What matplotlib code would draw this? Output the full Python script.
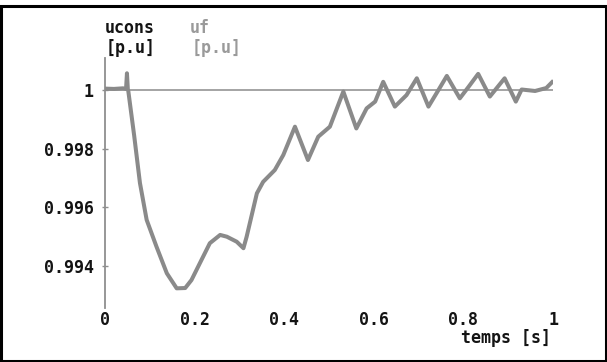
import numpy as np
import matplotlib
matplotlib.use("Agg")
import matplotlib.pyplot as plt
from matplotlib.patches import Rectangle

W, H = 607, 362

# uf response (p.u.) against time (s)
temps = [0.000, 0.020, 0.040, 0.047, 0.049, 0.051, 0.052, 0.065, 0.078, 0.093,
         0.115, 0.138, 0.160, 0.179, 0.193, 0.212, 0.234, 0.257, 0.272, 0.294,
         0.309, 0.316, 0.339, 0.353, 0.379, 0.398, 0.424, 0.453, 0.476, 0.502,
         0.532, 0.561, 0.584, 0.603, 0.621, 0.647, 0.673, 0.696, 0.722, 0.745,
         0.763, 0.792, 0.812, 0.833, 0.859, 0.892, 0.917, 0.930, 0.960, 0.985,
         0.998]
uf = [1.00003, 1.00002, 1.00004, 1.00002, 1.00055, 1.00000, 0.99995, 0.99845,
      0.99683, 0.99558, 0.99467, 0.99377, 0.99326, 0.99327, 0.99354, 0.99412,
      0.99479, 0.99507, 0.99501, 0.99484, 0.99462, 0.99500, 0.99648, 0.99687,
      0.99727, 0.99778, 0.99874, 0.99761, 0.99840, 0.99874, 0.99993, 0.99868,
      0.99936, 0.99959, 1.00026, 0.99942, 0.99981, 1.00038, 0.99942, 1.00000,
      1.00046, 0.99970, 1.00010, 1.00053, 0.99976, 1.00038, 0.99959, 1.00000,
      0.99995, 1.00005, 1.00025]

# setpoint
ucons_t = [0.0, 1.0]
ucons = [1.0, 1.0]

xticks = [0, 0.2, 0.4, 0.6, 0.8, 1]
xtick_labels = ["0", "0.2", "0.4", "0.6", "0.8", "1"]
yticks = [0.994, 0.996, 0.998, 1.0]
ytick_labels = ["0.994", "0.996", "0.998", "1"]

FONT = "DejaVu Sans Mono"
FS = 12
DARK = "#141414"
GREY = "#9a9a9a"

fig = plt.figure(figsize=(W / 100, H / 100), dpi=100)
ax = fig.add_axes([105 / W, 1 - 308 / H, 448 / W, 250 / H])

ax.plot(ucons_t, ucons, color="#8c8c8c", lw=1.1, zorder=2)
ax.plot(temps, uf, color="#8a8a8a", lw=2.9, solid_joinstyle="round", zorder=3)

ax.set_xlim(0, 1)
ax.set_ylim(0.992593, 1.001068)

for side in ("top", "right", "bottom"):
    ax.spines[side].set_visible(False)
ax.spines["left"].set_color("#8f8f8f")
ax.spines["left"].set_linewidth(1.3)

ax.set_xticks(xticks, xtick_labels)
ax.set_yticks(yticks, ytick_labels)
ax.tick_params(axis="x", length=0, pad=2)
ax.tick_params(axis="y", direction="inout", length=4, width=1, color="#8f8f8f", pad=6)
for lab in ax.get_xticklabels() + ax.get_yticklabels():
    lab.set_family(FONT)
    lab.set_fontweight("bold")
    lab.set_fontsize(FS)
    lab.set_color(DARK)


def ptext(x, y, s, color=DARK, ha="left"):
    fig.text(x / W, 1 - y / H, s, ha=ha, va="center", family=FONT,
             fontweight="bold", fontsize=FS, color=color)


ptext(105, 28, "ucons")
ptext(190, 28, "uf", GREY)
ptext(106, 48, "[p.u]")
ptext(192, 48, "[p.u]", GREY)
ptext(551, 338, "temps [s]", ha="right")

# black frame round the picture
fig.add_artist(Rectangle((1.5 / W, 1.5 / H), 604 / W, 355 / H,
                         transform=fig.transFigure, fill=False,
                         edgecolor="black", lw=2.2))

fig.savefig("out.png", dpi=100)
